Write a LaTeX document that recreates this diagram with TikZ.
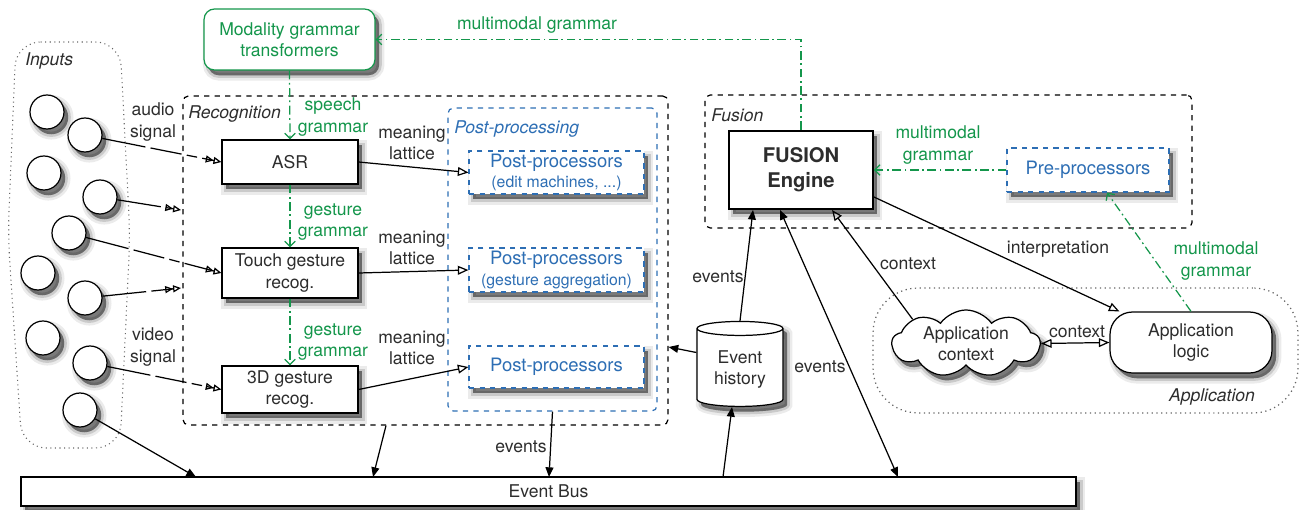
\documentclass[tikz,border=0pt]{standalone}
\usepackage{fontspec}
\setmainfont{TeX Gyre Heros}
\usepackage{xcolor}
\usetikzlibrary{arrows.meta, positioning, calc, shapes.geometric, shapes.symbols, shadows}

\definecolor{gramgreen}{RGB}{20,150,75}
\definecolor{ppblue}{RGB}{45,110,180}
\definecolor{txtgray}{RGB}{45,45,45}

\begin{document}
\begin{tikzpicture}[x=0.02cm, y=-0.02cm, font=\fontsize{10}{12}\selectfont,
    every node/.style={text=txtgray},
    boxshadow/.style={
        general shadow={solid, fill=black, draw=black, line width=6pt, opacity=.08, shadow xshift=2.4pt, shadow yshift=-3pt},
        general shadow={solid, fill=black, draw=black, line width=3pt, opacity=.14, shadow xshift=2.4pt, shadow yshift=-3pt},
        general shadow={solid, fill=black, draw=none, opacity=.35, shadow xshift=2.4pt, shadow yshift=-3pt}},
    procbox/.style={draw, line width=0.7pt, fill=white, boxshadow, align=center, inner sep=1pt},
    ppbox/.style={procbox, draw=ppblue, dashed, text=ppblue, font=\fontsize{10.5}{11.5}\selectfont, minimum width=3.5cm},
    container/.style={draw, dashed, line width=0.7pt, rounded corners=3pt, inner sep=0pt},
    src/.style={circle, draw, line width=0.7pt, fill=white, boxshadow, minimum size=0.68cm, inner sep=0pt},
    lbl/.style={align=center, inner sep=0pt},
    gramlbl/.style={lbl, text=gramgreen},
    grouplbl/.style={anchor=west, inner sep=0pt, font=\fontsize{10}{12}\selectfont\itshape},
    sigarrow/.style={line width=0.7pt, dash pattern=on 25pt off 3pt on 18pt off 3pt on 6pt off 3pt,
        -{Triangle[open,length=4.5pt,width=4pt]Triangle[open,length=4.5pt,width=4pt]}},
    latarrow/.style={line width=0.7pt, -{Triangle[open,length=6pt,width=5pt]}},
    evarrow/.style={line width=0.7pt, -{Triangle[length=5.5pt,width=4.5pt]}},
    gramarrow/.style={draw=gramgreen, line width=0.7pt, dash pattern=on 5pt off 2pt on 1pt off 2pt,
        -{Straight Barb[length=3pt,width=6pt]}}]
    \useasboundingbox (0,0) rectangle (1305,510);

    % groups
    \draw[dotted, line width=0.6pt, draw=black!60, rounded corners=14pt]
        (16,42) -- (120,42) -- (130,235) -- (120,448) -- (22,448) -- (8,235) -- cycle;
    \node[grouplbl] (inputslbl) at (25,61) {Inputs};
    \node[container, minimum width=9.7cm, minimum height=6.58cm] (recog) at (425.5,260.5) {};
    \node[grouplbl] (recoglbl) at (188,114) {Recognition};
    \node[container, draw=ppblue, minimum width=4.18cm, minimum height=6.06cm] (postproc) at (552.5,259.5) {};
    \node[grouplbl, text=ppblue] (postlbl) at (454,129) {Post-processing};
    \node[container, minimum width=9.74cm, minimum height=2.66cm] (fusion) at (948.5,161.5) {};
    \node[grouplbl] (fusionlbl) at (711,115) {Fusion};
    \node[container, dotted, draw=black!60, rounded corners=0.9cm, minimum width=8.5cm, minimum height=2.5cm] (application) at (1085.5,350.5) {};
    \node[grouplbl, anchor=center] (applbl) at (1212,397) {Application};

    % input sources
    \foreach \n/\px/\py in {1/47/112, 2/85/135, 3/44/173, 4/100/197, 5/69/233,
                            6/38/273, 7/85/298, 8/43/338, 9/90/363, 10/80/410}
        \node[src] (c\n) at (\px,\py) {};

    % recognizers and post-processors
    \node[procbox, draw=gramgreen, text=gramgreen, rounded corners=6pt, minimum width=3.42cm, minimum height=1.22cm] (modality) at (289.5,39.5) {Modality grammar\\transformers};
    \node[procbox, minimum width=2.72cm, minimum height=0.88cm] (asr) at (290,162) {ASR};
    \node[procbox, minimum width=2.72cm, minimum height=1.0cm] (touch) at (290,273) {Touch gesture\\recog.};
    \node[procbox, minimum width=2.72cm, minimum height=0.94cm] (threed) at (290,389.5) {3D gesture\\recog.};
    \node[ppbox, minimum height=0.86cm] (pp1) at (556.5,172.5) {Post-processors\\{\fontsize{9}{10}\selectfont (edit machines, ...)}};
    \node[ppbox, minimum height=0.88cm] (pp2) at (556.5,270) {Post-processors\\{\fontsize{9}{10}\selectfont (gesture aggregation)}};
    \node[ppbox, minimum height=0.84cm] (pp3) at (556.5,367) {Post-processors};

    % fusion and application
    \node[procbox, line width=1.1pt, minimum width=2.88cm, minimum height=1.56cm, font=\bfseries\fontsize{11.5}{14}\selectfont] (fusioneng) at (801,170) {FUSION\\Engine};
    \node[ppbox, minimum width=3.24cm, minimum height=0.88cm] (prepro) at (1088,170) {Pre-processors};
    \node[cloud, cloud puffs=9, cloud puff arc=110, cloud ignores aspect, draw, line width=0.7pt, fill=white, boxshadow,
          minimum width=2.96cm, minimum height=1.34cm, align=center, inner sep=0pt] (appctx) at (966,343.5) {Application\\context};
    \node[procbox, rounded corners=0.45cm, minimum width=3.24cm, minimum height=1.22cm] (applogic) at (1191,342.5) {Application\\logic};
    \node[cylinder, shape border rotate=90, aspect=0.22, draw, line width=0.7pt, fill=white, boxshadow,
          minimum width=1.72cm, minimum height=1.7cm, align=center] (evhist) at (740,369.5) {Event\\history};
    \node[procbox, minimum width=21.1cm, minimum height=0.58cm] (bus) at (548.5,491.5) {Event Bus};

    \coordinate (sigA) at (181,210);
    \coordinate (sigB) at (181,288);
    \coordinate (busIn) at (196,477);
    \coordinate (busRec) at (373,477);
    \coordinate (busPost) at (549,477);
    \coordinate (busHist) at (723,477);
    \coordinate (busFus) at (898,477);

    % signals
    \draw[sigarrow] (c2) -- (asr.west);
    \draw[sigarrow] (c4) -- (sigA);
    \draw[sigarrow] (c5) -- (touch.west);
    \draw[sigarrow] (c7) -- (sigB);
    \draw[sigarrow] (c9) -- (threed.west);
    \draw[evarrow] (c10) -- (busIn);
    \node[lbl] (audiolbl) at (153,122) {audio\\signal};
    \node[lbl] (videolbl) at (153,347) {video\\signal};

    % lattices
    \draw[latarrow] (asr.east) -- (pp1.west);
    \draw[latarrow] (touch.east) -- (pp2.west);
    \draw[latarrow] (threed.east) -- (pp3.west);
    \foreach \ly in {143, 248, 348}
        \node[lbl] at (412,\ly) {meaning\\lattice};

    % grammars
    \draw[gramarrow] (modality.south) -- (asr.north);
    \draw[gramarrow] (asr.south) -- (touch.north);
    \draw[gramarrow] (touch.south) -- (threed.north);
    \draw[gramarrow] (fusioneng.north) |- (modality.east);
    \draw[gramarrow] (prepro.west) -- (fusioneng.east);
    \draw[gramarrow] (applogic.north) -- ($(prepro.south)+(19,0)$);
    \node[gramlbl] (speechlbl) at (333,117) {speech\\grammar};
    \node[gramlbl] (gestlblA) at (333,222) {gesture\\grammar};
    \node[gramlbl] (gestlblB) at (333,342) {gesture\\grammar};
    \node[gramlbl] (mmlblA) at (537,25) {multimodal grammar};
    \node[gramlbl] (mmlblB) at (938,145) {multimodal\\grammar};
    \node[gramlbl] (mmlblC) at (1216,261) {multimodal\\grammar};

    % events and context
    \draw[evarrow] ($(recog.south)+(-39.5,0)$) -- (busRec);
    \draw[evarrow] (postproc.south) -- (busPost);
    \draw[evarrow] ($(evhist.west)+(0,-17)$) -- ($(recog.east)+(0,86.5)$);
    \draw[evarrow] (evhist.north) -- ($(fusioneng.south)+(-48,0)$);
    \draw[evarrow] (busHist) -- ($(evhist.south)+(-8,0)$);
    \draw[evarrow, {Triangle[length=5.5pt,width=4.5pt]}-{Triangle[length=5.5pt,width=4.5pt]}] (busFus) -- ($(fusioneng.south)+(-21,0)$);
    \draw[latarrow] (appctx.north west) -- ($(fusioneng.south)+(31,0)$);
    \draw[latarrow] ($(fusioneng.east)+(0,27)$) -- ($(applogic.north west)+(10,0)$);
    \draw[latarrow, {Triangle[open,length=6pt,width=5pt]}-{Triangle[open,length=6pt,width=5pt]}] (appctx.east) -- (applogic.west);
    \node[lbl] (evlblA) at (521,447) {events};
    \node[lbl] (evlblB) at (718,277) {events};
    \node[lbl] (evlblC) at (820,367) {events};
    \node[lbl] (ctxlblA) at (908,264) {context};
    \node[lbl] (ctxlblB) at (1077,332) {context};
    \node[lbl] (interplbl) at (1058,249) {interpretation};
\end{tikzpicture}
\end{document}
